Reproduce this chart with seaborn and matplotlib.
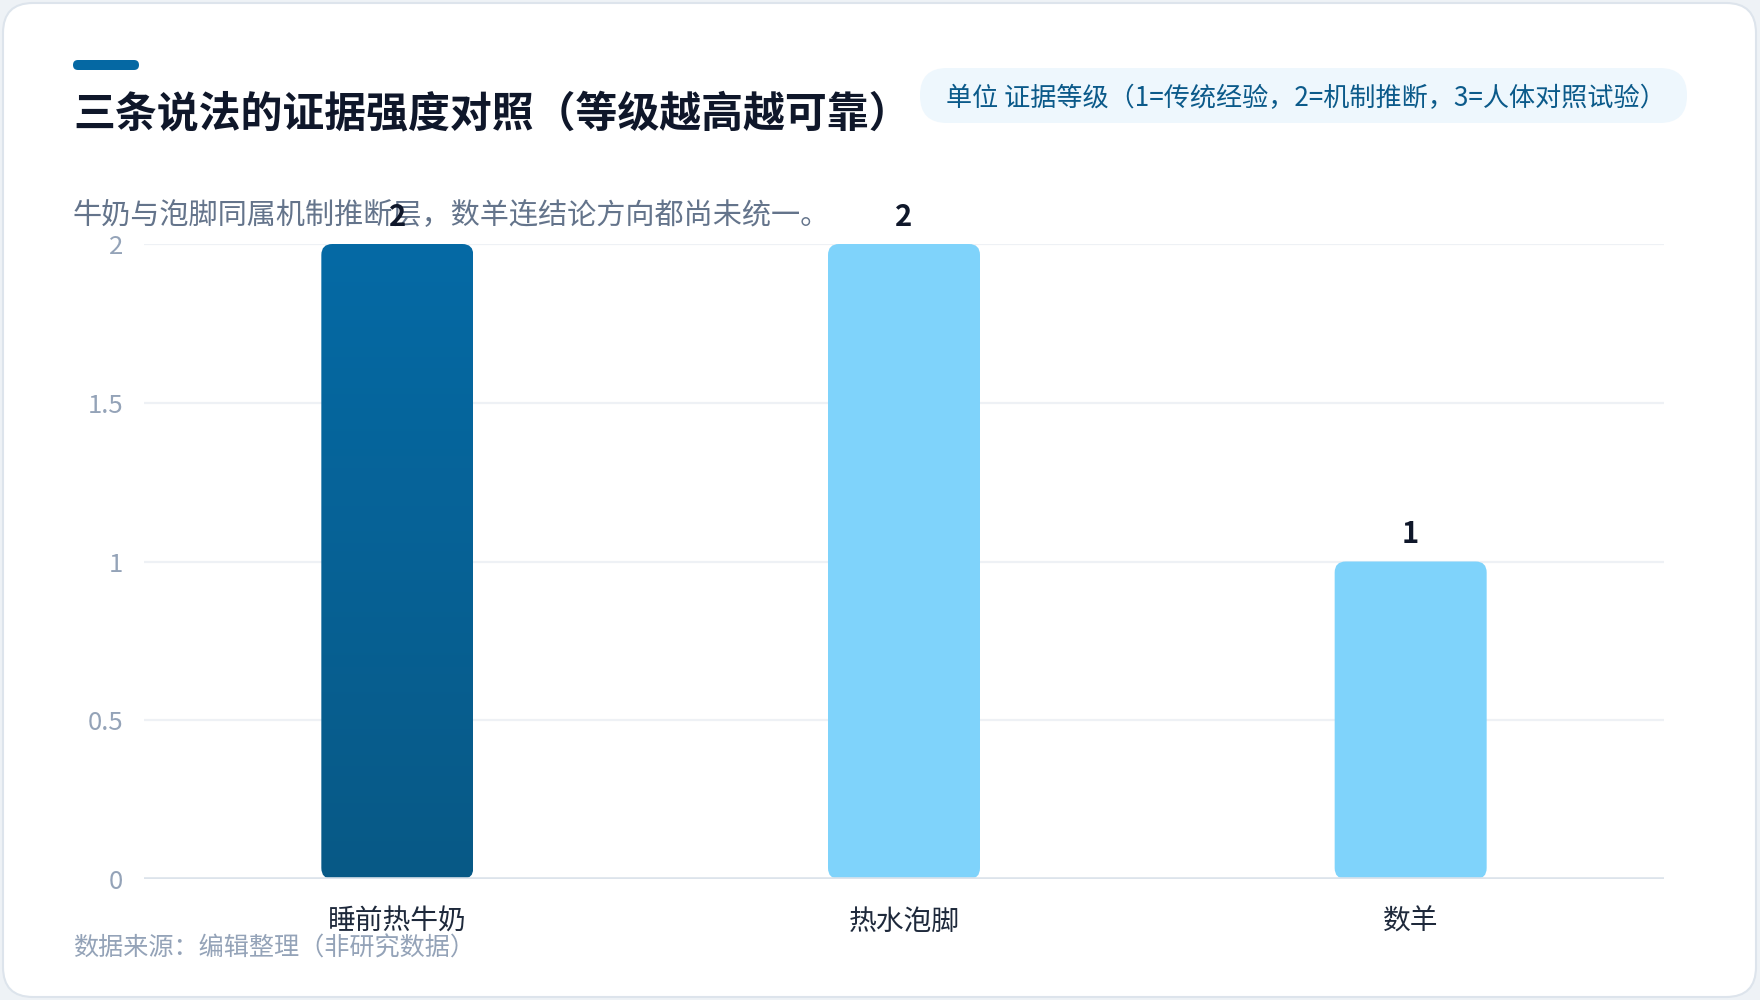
import numpy as np
import pandas as pd
import matplotlib
matplotlib.use('Agg')
import matplotlib.pyplot as plt
from matplotlib.patches import FancyBboxPatch
import seaborn as sns

# 数据
categories = ['睡前热牛奶', '热水泡脚', '数羊']
evidence_level = [2, 2, 1]
bar_colors = ['#0568a3', '#7fd3fb', '#7fd3fb']
y_ticks = [0, 0.5, 1, 1.5, 2]
y_tick_labels = ['0', '0.5', '1', '1.5', '2']

title = '三条说法的证据强度对照（等级越高越可靠）'
subtitle = '牛奶与泡脚同属机制推断层，数羊连结论方向都尚未统一。'
unit_note = '单位 证据等级（1=传统经验，2=机制推断，3=人体对照试验）'
source_note = '数据来源：编辑整理（非研究数据）'

df = pd.DataFrame({'说法': categories, '等级': evidence_level})

sns.set_theme(style='white')
plt.rcParams['font.family'] = ['Noto Sans CJK SC', 'DejaVu Sans']

W, H = 1760, 1000
fig = plt.figure(figsize=(W / 100, H / 100), dpi=100)
fig.patch.set_facecolor('#eef2f6')

# 背景层（像素坐标）
bg = fig.add_axes([0, 0, 1, 1], zorder=-1)
bg.set_xlim(0, W)
bg.set_ylim(H, 0)
bg.axis('off')

card = FancyBboxPatch((3, 3), W - 7, H - 6,
                      boxstyle='round,pad=0,rounding_size=30',
                      facecolor='white', edgecolor='#dde4ec', linewidth=1.5)
bg.add_patch(card)

accent = FancyBboxPatch((73, 60), 66, 10,
                        boxstyle='round,pad=0,rounding_size=5',
                        facecolor='#0568a3', edgecolor='none')
bg.add_patch(accent)

bg.text(73, 114, title, fontsize=30.2, fontweight='bold', color='#0f172a',
        va='center', ha='left')
bg.text(73, 216, subtitle, fontsize=21, color='#64748b',
        va='center', ha='left')

pill = FancyBboxPatch((920, 68), 767, 55,
                      boxstyle='round,pad=0,rounding_size=27',
                      facecolor='#eef7fd', edgecolor='none')
bg.add_patch(pill)
bg.text(946, 99, unit_note, fontsize=18.8, color='#0b5a8a',
        va='center', ha='left')

bg.text(73, 949, source_note, fontsize=18.1, color='#94a3b8',
        va='center', ha='left')

# 主图
ax = fig.add_axes([144 / W, 121 / H, 1520 / W, 635 / H])
ax.set_facecolor('none')

sns.barplot(data=df, x='说法', y='等级', hue='说法', palette=bar_colors,
            width=0.3, legend=False, ax=ax, saturation=1)

ax.set_ylim(0, 2)
ax.set_xlim(-0.5, 2.5)
ax.set_yticks(y_ticks)
ax.set_yticklabels(y_tick_labels)
ax.set_xlabel('')
ax.set_ylabel('')
for s in ax.spines.values():
    s.set_visible(False)
ax.tick_params(axis='y', length=0, pad=15, labelsize=18.5, labelcolor='#94a3b8')
ax.tick_params(axis='x', length=0, pad=20, labelsize=20, labelcolor='#1e293b')

for y in y_ticks[1:]:
    ax.axhline(y, color='#eef1f5', linewidth=1.6, zorder=0)
ax.axhline(0, color='#dce3eb', linewidth=2.6, zorder=4)

# 圆角柱子替换
px_x = 1520 / 3.0      # 每单位 x 的像素
px_y = 635 / 2.0       # 每单位 y 的像素
r_px = 11
aspect = px_x / px_y
old = list(ax.patches)
for i, p in enumerate(old):
    x0, w, h = p.get_x(), p.get_width(), p.get_height()
    col = p.get_facecolor()
    p.remove()
    rb = FancyBboxPatch((x0, 0), w, h,
                        boxstyle=f'round,pad=0,rounding_size={r_px / px_x}',
                        mutation_aspect=aspect,
                        facecolor=col, edgecolor='none', zorder=3)
    ax.add_patch(rb)
    if i == 0:
        # 第一根柱子使用竖向渐变（上亮下暗）
        rb.set_facecolor('none')
        top = np.array([5, 106, 165]) / 255
        bot = np.array([8, 89, 134]) / 255
        t = np.linspace(0, 1, 256)[:, None]
        grad = (top * (1 - t) + bot * t)[:, None, :]
        im = ax.imshow(grad, extent=(x0, x0 + w, 0, h), aspect='auto',
                       origin='upper', zorder=3, interpolation='bilinear')
        im.set_clip_path(rb)
    ax.annotate(f'{evidence_level[i]}', (x0 + w / 2, h),
                xytext=(0, 19.5), textcoords='offset points',
                ha='center', va='center', fontsize=21, fontweight='bold',
                color='#0f172a', zorder=6, annotation_clip=False)

ax.set_xlim(-0.5, 2.5)
ax.set_ylim(0, 2)

fig.savefig('out.png', dpi=100, facecolor=fig.get_facecolor())
